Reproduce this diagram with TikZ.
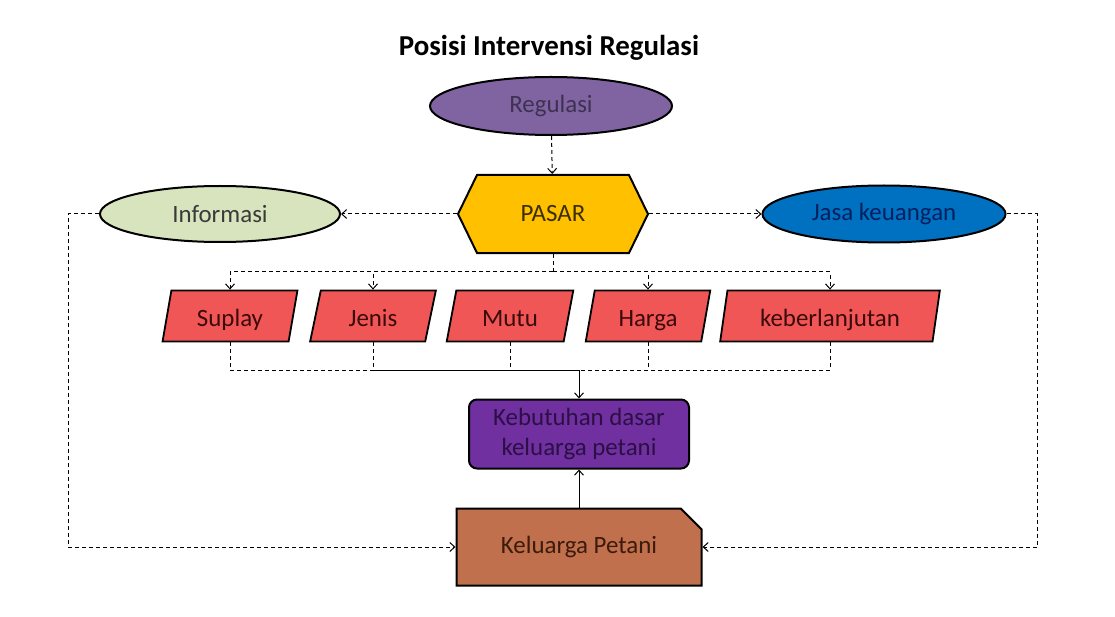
\documentclass[tikz,border=0pt]{standalone}
\usepackage{fontspec}
\setmainfont{Carlito}
\usetikzlibrary{shapes.geometric,shapes.symbols,shapes.misc,arrows.meta}
\definecolor{regfill}{HTML}{8064A2}
\definecolor{regtext}{HTML}{3F3151}
\definecolor{pasarfill}{HTML}{FFC000}
\definecolor{pasartext}{HTML}{3D2E00}
\definecolor{infofill}{HTML}{D7E4BD}
\definecolor{infotext}{HTML}{3A3A3A}
\definecolor{jasafill}{HTML}{0070C0}
\definecolor{jasatext}{HTML}{002060}
\definecolor{faktorfill}{HTML}{F05656}
\definecolor{faktortext}{HTML}{3B0A0A}
\definecolor{butuhfill}{HTML}{7030A0}
\definecolor{butuhtext}{HTML}{2B0F45}
\definecolor{petanifill}{HTML}{C0704C}
\definecolor{petanitext}{HTML}{3C1A0C}
\begin{document}
\begin{tikzpicture}[x=1bp,y=-1bp,>={Straight Barb[length=5pt,width=9pt]},
  font=\fontsize{25}{30}\selectfont,
  oval/.style={ellipse,draw,line width=2bp,inner sep=0pt},
  faktor/.style={trapezium,trapezium left angle=76,trapezium right angle=104,
    trapezium stretches=true,draw,line width=1.8bp,fill=faktorfill,
    text=faktortext,minimum height=51bp,inner sep=0pt,
    text height=20bp,text depth=0bp},
  garis/.style={dash pattern=on 4bp off 3bp,line width=1bp}]
  \useasboundingbox (0,0) rectangle (1115,617);
  \node[font=\fontsize{29}{32}\selectfont\bfseries] (judul) at (549,48)
    {Posisi Intervensi Regulasi};
  \node[oval,fill=regfill,text=regtext,minimum width=242bp,minimum height=58bp]
    (reg) at (551,106) {Regulasi};
  \node[signal,signal to=east and west,signal pointer angle=128,draw,
    line width=2bp,fill=pasarfill,text=pasartext,minimum width=190bp,
    minimum height=78bp,inner sep=0pt] (pasar) at (553,214) {PASAR};
  \node[oval,fill=infofill,text=infotext,minimum width=240bp,minimum height=56bp]
    (info) at (220,214) {Informasi};
  \node[oval,fill=jasafill,text=jasatext,minimum width=243bp,minimum height=57bp]
    (jasa) at (884,214) {Jasa keuangan};
  % faktor pasar
  \node[faktor,minimum width=135bp] (sup) at (230,316) {Suplay};
  \node[faktor,minimum width=126bp] (jen) at (373,316) {Jenis};
  \node[faktor,minimum width=127bp] (mutu) at (510,316) {Mutu};
  \node[faktor,minimum width=125bp] (hrg) at (648,316) {Harga};
  \node[faktor,minimum width=220bp] (ber) at (830,316) {keberlanjutan};
  \node[draw,rounded corners=8bp,line width=2bp,fill=butuhfill,text=butuhtext,
    minimum width=220bp,minimum height=69bp,align=center,inner sep=0pt]
    (kdk) at (579,434) {Kebutuhan dasar\\keluarga petani};
  \node[chamfered rectangle,chamfered rectangle corners=north east,
    chamfered rectangle xsep=15bp,chamfered rectangle ysep=10bp,draw,
    line width=2bp,fill=petanifill,text=petanitext,minimum width=245bp,
    minimum height=77bp,inner sep=0pt] (kp) at (579,547) {Keluarga Petani};
  \coordinate (hub) at (553,272);
  \coordinate (bus) at (579,370);
  \coordinate (kiri) at (68,214);
  \coordinate (kanan) at (1037,214);
  % panah
  \draw[garis,->] (reg) -- (pasar);
  \draw[garis,->] (pasar.west) -- (info.east);
  \draw[garis,->] (pasar.east) -- (jasa.west);
  \draw[garis,->] (info.west) -- (kiri) |- (kp.west);
  \draw[garis,->] (jasa.east) -- (kanan) |- (kp.east);
  \draw[garis] (pasar.south) -- (hub);
  \foreach \f in {sup,jen,hrg,ber}
    \draw[garis,->] (hub) -| (\f.north);
  \foreach \f in {sup,jen,mutu,hrg,ber}
    \draw[garis] (\f.south) |- (bus);
  \draw[line width=1bp,->] (bus) -- (kdk.north);
  \draw[line width=1bp,->] (kp.north) -- (kdk.south);
\end{tikzpicture}
\end{document}
